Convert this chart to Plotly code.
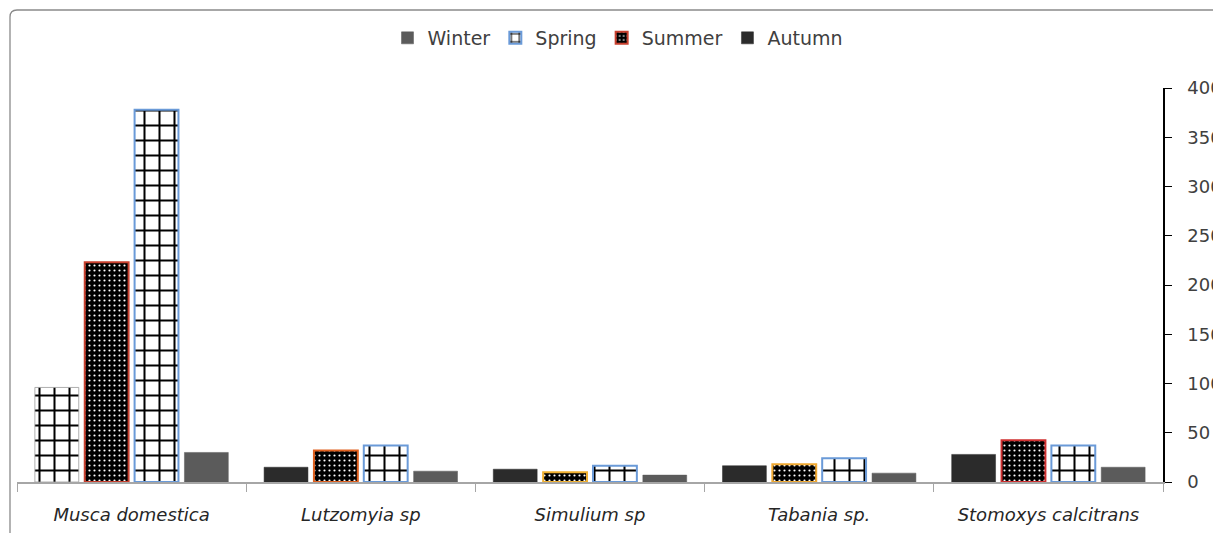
import plotly.graph_objects as go

categories = ["Musca domestica", "Lutzomyia sp", "Simulium sp", "Tabania sp.", "Stomoxys calcitrans"]
autumn = [96, 15, 13, 16.5, 28]
summer = [223, 32, 10, 18, 42.5]
spring = [378, 37, 16.5, 24, 37]
winter = [30, 11, 7, 9, 15]
y_ticks = [0, 50, 100, 150, 200, 250, 300, 350, 400]

# Summer bar outline colours as seen per category
summer_edges = ["#c8402e", "#e0601e", "#f0b030", "#f0a830", "#d03030"]

# page body has an 8px margin; figure is sized so the plot lands where the reference has it
OFF = 8
W, H = 1221 - OFF, 533 - OFF
L, T = 17 - OFF, 88 - OFF
R = W - (1163 - OFF)
B = H - (482 - OFF)
pw, ph = W - L - R, H - T - B

fig = go.Figure()

fig.add_trace(go.Bar(
    name="Autumn", x=categories[1:], y=autumn[1:], offsetgroup="autumn",
    marker=dict(color="#2b2b2b", line=dict(color="#2b2b2b", width=0.5)),
))
fig.add_trace(go.Bar(
    name="Autumn", x=categories[:1], y=autumn[:1], offsetgroup="autumn", showlegend=False,
    marker=dict(color="white", line=dict(color="#9a9a9a", width=0.8),
                pattern=dict(shape="+", size=15, solidity=0.25, fgcolor="black",
                             bgcolor="white", fillmode="replace")),
))
fig.add_trace(go.Bar(
    name="Summer", x=categories, y=summer, offsetgroup="summer",
    marker=dict(color="black", line=dict(color=summer_edges, width=2),
                pattern=dict(shape=".", size=5, solidity=0.15, fgcolor="white",
                             bgcolor="black", fillmode="replace")),
))
fig.add_trace(go.Bar(
    name="Spring", x=categories, y=spring, offsetgroup="spring",
    marker=dict(color="white", line=dict(color="#6a9ad8", width=2),
                pattern=dict(shape="+", size=15, solidity=0.25, fgcolor="black",
                             bgcolor="white", fillmode="replace")),
))
fig.add_trace(go.Bar(
    name="Winter", x=categories, y=winter, offsetgroup="winter",
    marker=dict(color="#5b5b5b", line=dict(color="#5b5b5b", width=0.5)),
))

# outer rounded frame (only top and left edges visible)
x0 = (10 - 17) / pw
yt = (482 - 10) / ph
rx = 7 / pw
ry = 7 / ph
xr = (1240 - 17) / pw
yb = -60 / ph
frame = f"M {x0},{yb} L {x0},{yt - ry} Q {x0},{yt} {x0 + rx},{yt} L {xr},{yt}"

fig.update_layout(
    width=W, height=H, autosize=False,
    margin=dict(l=L, r=R, t=T, b=B),
    paper_bgcolor="white", plot_bgcolor="white",
    barmode="group", bargap=0.13, bargroupgap=0.12,
    font=dict(family="DejaVu Sans", color="#404040"),
    showlegend=True,
    legend=dict(orientation="h", traceorder="reversed", x=(618 - 17) / pw, xanchor="center",
                y=(482 - 38) / ph, yanchor="middle",
                font=dict(size=19, family="DejaVu Sans", color="#404040"),
                itemwidth=30, tracegroupgap=0),
    shapes=[dict(type="path", xref="paper", yref="paper", path=frame,
                 line=dict(color="#8a8a8a", width=1.3))],
    xaxis=dict(
        type="category", categoryorder="array", categoryarray=categories,
        showline=True, linecolor="#a6a6a6", linewidth=1.5,
        ticks="outside", tickson="boundaries", ticklen=8, tickcolor="#a6a6a6",
        tickfont=dict(size=18, family="DejaVu Sans", style="italic", color="#262626"),
        ticklabelstandoff=16, showgrid=False, automargin=False,
    ),
    yaxis=dict(
        side="right", range=[0, 400], tickvals=y_ticks, showline=True,
        linecolor="black", linewidth=1.5, ticks="outside", ticklen=7,
        tickcolor="black", tickfont=dict(size=18, family="DejaVu Sans", color="#404040"),
        showgrid=False, zeroline=False, automargin=False, ticklabelstandoff=12,
    ),
)

fig.write_html("out.html")
